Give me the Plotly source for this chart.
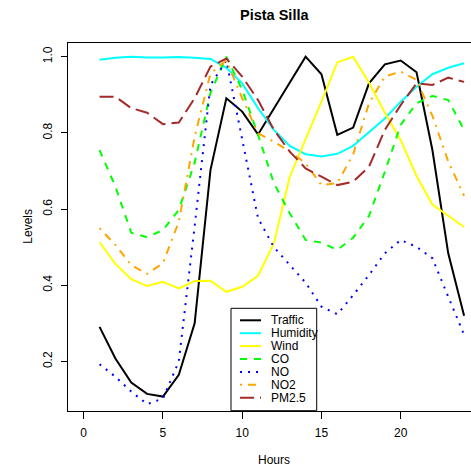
import plotly.graph_objects as go

hours = list(range(1, 25))
traffic = [0.291, 0.208, 0.145, 0.115, 0.108, 0.165, 0.300, 0.703, 0.891, 0.856, 0.796, 0.864,
           0.933, 1.000, 0.954, 0.795, 0.814, 0.930, 0.980, 0.990, 0.959, 0.755, 0.484, 0.320]
humidity = [0.992, 0.997, 1.000, 0.998, 0.998, 0.999, 0.997, 0.994, 0.971, 0.930, 0.865, 0.808,
            0.766, 0.744, 0.738, 0.745, 0.766, 0.801, 0.838, 0.882, 0.921, 0.954, 0.971, 0.983]
wind = [0.513, 0.456, 0.416, 0.398, 0.409, 0.392, 0.411, 0.412, 0.383, 0.396, 0.425, 0.510,
        0.685, 0.783, 0.882, 0.985, 1.000, 0.932, 0.853, 0.781, 0.687, 0.612, 0.582, 0.553]
co = [0.755, 0.659, 0.538, 0.526, 0.545, 0.598, 0.722, 0.905, 1.000, 0.913, 0.795, 0.668,
      0.589, 0.519, 0.512, 0.493, 0.525, 0.582, 0.698, 0.821, 0.878, 0.897, 0.886, 0.808]
no = [0.193, 0.160, 0.121, 0.088, 0.103, 0.200, 0.555, 0.926, 0.990, 0.785, 0.576, 0.500,
      0.453, 0.407, 0.344, 0.324, 0.374, 0.427, 0.484, 0.519, 0.501, 0.471, 0.370, 0.270]
no2 = [0.550, 0.506, 0.453, 0.430, 0.458, 0.567, 0.790, 0.956, 0.990, 0.891, 0.799, 0.777,
       0.751, 0.720, 0.663, 0.668, 0.744, 0.878, 0.948, 0.961, 0.939, 0.845, 0.725, 0.635]
pm25 = [0.895, 0.895, 0.865, 0.853, 0.823, 0.827, 0.891, 0.974, 0.995, 0.948, 0.886, 0.808,
        0.751, 0.707, 0.685, 0.663, 0.672, 0.711, 0.808, 0.873, 0.930, 0.926, 0.945, 0.934]

series_names = ["Traffic", "Humidity", "Wind", "CO", "NO", "NO2", "PM2.5"]
series_values = [traffic, humidity, wind, co, no, no2, pm25]
series_colors = ["#000000", "#00FFFF", "#FFFF00", "#00FF00", "#0000FF", "#FFA500", "#A52A2A"]
series_dash = ["solid", "solid", "solid", "7px,7px", "2px,6px", "2px,6px,8px,6px", "14px,6px"]

x_ticks = [0, 5, 10, 15, 20]
y_ticks = [0.2, 0.4, 0.6, 0.8, 1.0]

W, H = 471, 469
ML, MR, MT, MB = 68, 0, 43, 58
PW, PH = W - ML - MR, H - MT - MB

FONT = "Liberation Sans, Arial, Helvetica, sans-serif"


def px2x(px):
    return (px - ML) / PW


def py2y(py):
    return (H - MB - py) / PH


fig = go.Figure()
for name, vals, col, dash in zip(series_names, series_values, series_colors, series_dash):
    fig.add_trace(go.Scatter(x=hours, y=vals, mode="lines", name=name,
                             line=dict(color=col, width=2, dash=dash),
                             showlegend=False))

shapes = []
annotations = []

# legend box
lx0, lx1, ly0, ly1 = 231, 316.7, 308.3, 410.7
shapes.append(dict(type="rect", xref="paper", yref="paper",
                   x0=px2x(lx0), x1=px2x(lx1), y0=py2y(ly1), y1=py2y(ly0),
                   line=dict(color="black", width=1), fillcolor="white", layer="above"))
row_y = [320.3, 333.2, 346.1, 359.0, 371.9, 384.8, 397.7]
for name, col, dash, ry in zip(series_names, series_colors, series_dash, row_y):
    shapes.append(dict(type="line", xref="paper", yref="paper",
                       x0=px2x(240), x1=px2x(261), y0=py2y(ry), y1=py2y(ry),
                       line=dict(color=col, width=2, dash=dash), layer="above"))
    annotations.append(dict(text=name, xref="paper", yref="paper",
                            x=px2x(269), y=py2y(ry), xanchor="left", yanchor="middle",
                            showarrow=False, font=dict(size=12, color="black", family=FONT)))

annotations.append(dict(text="<b>Pista Silla</b>", xref="paper", yref="paper",
                        x=px2x(274), y=py2y(15), xanchor="center", yanchor="middle",
                        showarrow=False, font=dict(size=14.5, color="black", family=FONT)))
annotations.append(dict(text="Hours", xref="paper", yref="paper",
                        x=px2x(274), y=py2y(460), xanchor="center", yanchor="middle",
                        showarrow=False, font=dict(size=12, color="black", family=FONT)))
annotations.append(dict(text="Levels", xref="paper", yref="paper",
                        x=px2x(28), y=py2y(226.7), xanchor="center", yanchor="middle",
                        textangle=-90,
                        showarrow=False, font=dict(size=12, color="black", family=FONT)))

x0_px = 83.7
ppu_x = 15.85
x_lo = -(x0_px - ML) / ppu_x
x_hi = x_lo + PW / ppu_x
ppu_y = 381.0
y_hi = 1.0 + (56.7 - MT) / ppu_y
y_lo = 1.0 - (H - MB - 56.7) / ppu_y

fig.update_layout(
    width=W, height=H,
    margin=dict(l=ML, r=MR, t=MT, b=MB, pad=0),
    paper_bgcolor="white", plot_bgcolor="white",
    font=dict(family=FONT, size=12, color="black"),
    shapes=shapes, annotations=annotations,
    xaxis=dict(range=[x_lo, x_hi], tickvals=x_ticks, ticktext=[str(v) for v in x_ticks],
               ticks="outside", ticklen=7, tickwidth=1, tickcolor="black",
               showline=True, linecolor="black", linewidth=1, mirror=True,
               showgrid=False, zeroline=False, ticklabelstandoff=4,
               tickfont=dict(size=12, color="black", family=FONT)),
    yaxis=dict(range=[y_lo, y_hi], tickvals=y_ticks, ticktext=["0.2", "0.4", "0.6", "0.8", "1.0"],
               ticks="outside", ticklen=6, tickwidth=1, tickcolor="black",
               showline=True, linecolor="black", linewidth=1, mirror=False,
               showgrid=False, zeroline=False, tickangle=-90, ticklabelstandoff=4,
               tickfont=dict(size=12, color="black", family=FONT)),
)

fig.write_html(
    "out.html",
    config={"displayModeBar": False},
    post_script="document.body.style.margin='0';document.body.style.padding='0';"
                "document.body.style.overflow='hidden';"
                "document.documentElement.style.overflow='hidden';",
)
